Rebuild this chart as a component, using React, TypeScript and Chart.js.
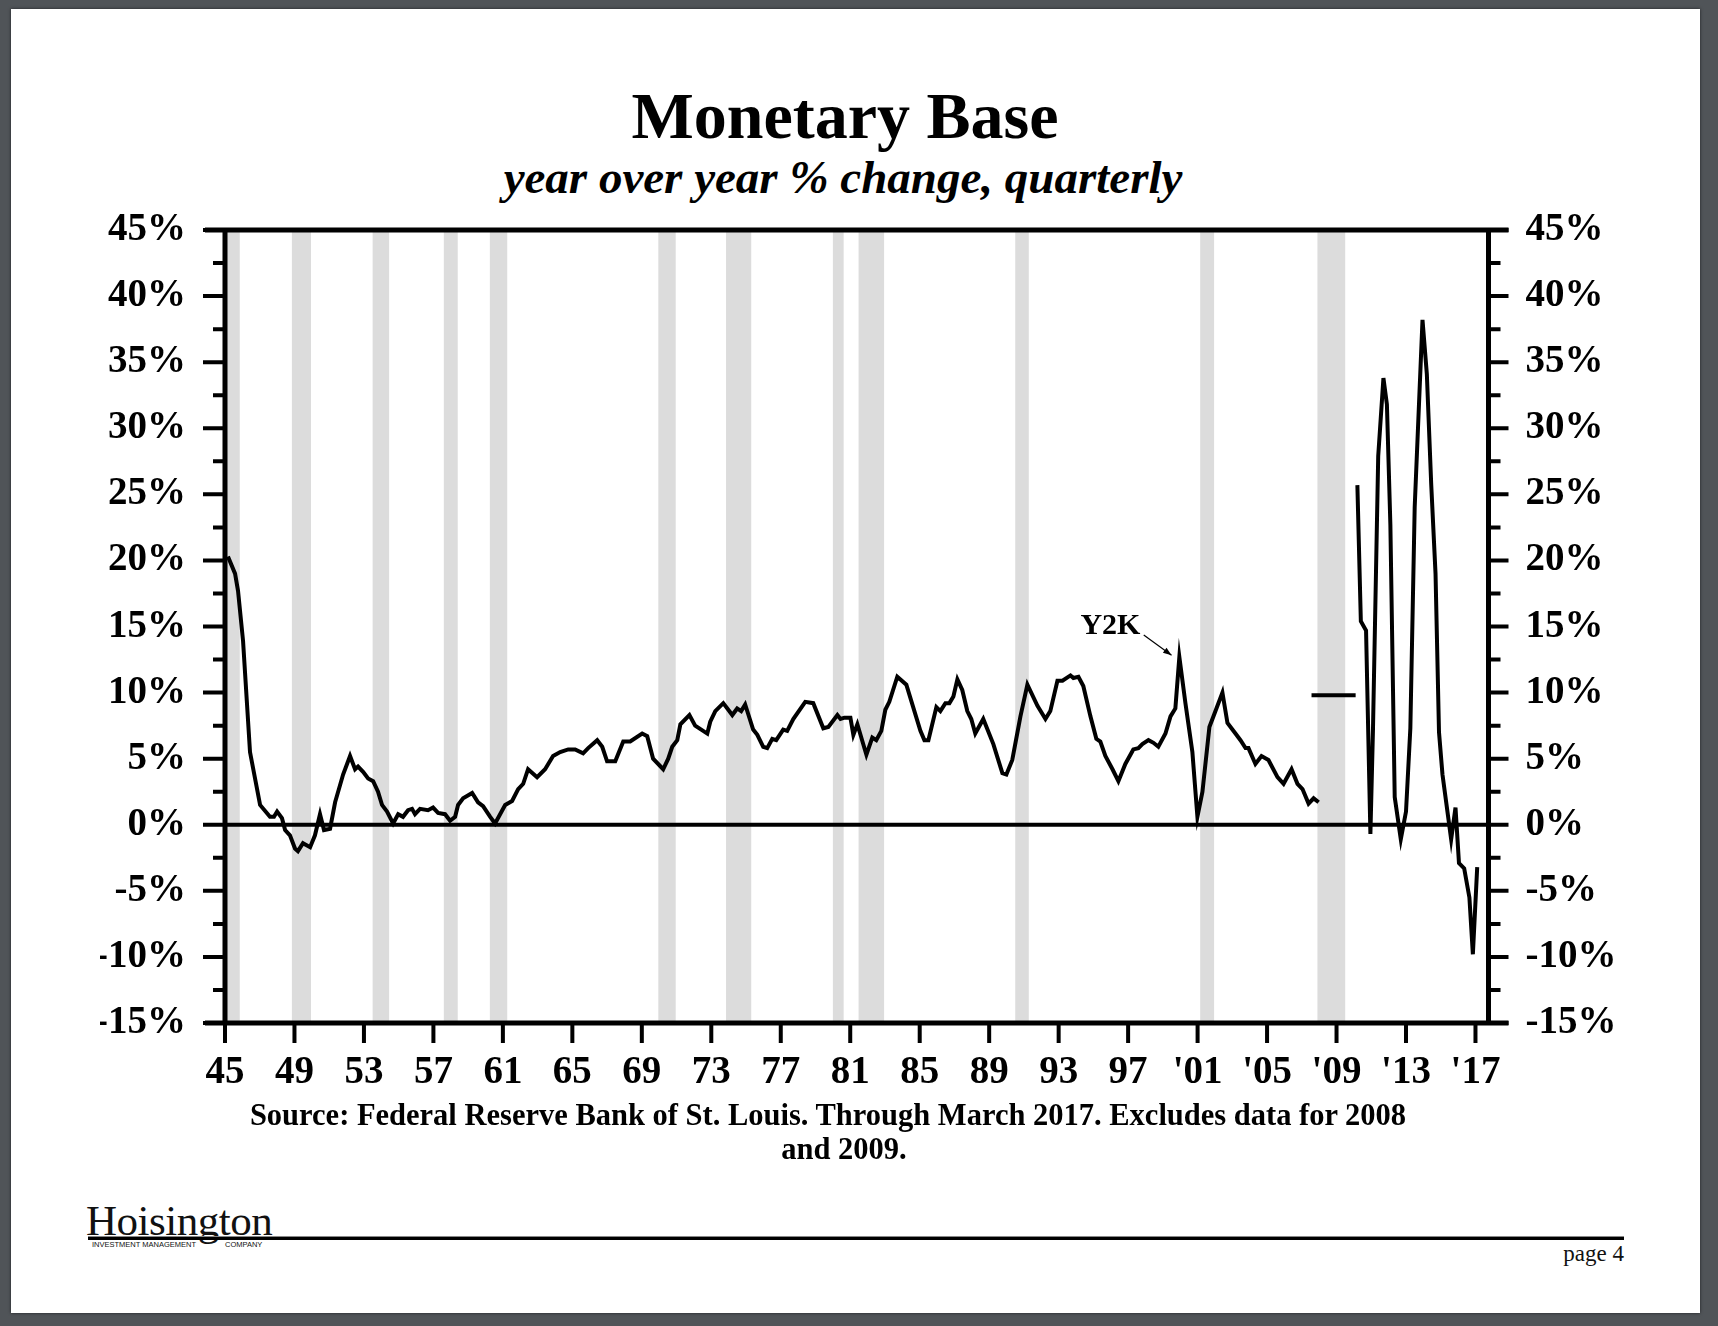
import React, { useEffect, useRef } from "react";
import { Chart, registerables } from "chart.js";

Chart.register(...registerables);

// ---- data ----
const mainYears = [
  1945.17, 1945.58, 1945.75, 1946.04, 1946.44, 1947.02, 1947.59, 1947.82, 1948.0, 1948.28,
  1948.46, 1948.74, 1949.03, 1949.2, 1949.49, 1949.9, 1950.18, 1950.47, 1950.7, 1951.05,
  1951.34, 1951.8, 1952.2, 1952.49, 1952.66, 1952.95, 1953.24, 1953.53, 1953.81, 1954.04,
  1954.33, 1954.68, 1954.97, 1955.25, 1955.54, 1955.77, 1955.94, 1956.23, 1956.69, 1956.98,
  1957.27, 1957.67, 1957.96, 1958.25, 1958.42, 1958.71, 1959.23, 1959.57, 1959.86, 1960.27,
  1960.55, 1960.84, 1961.13, 1961.53, 1961.88, 1962.17, 1962.45, 1962.97, 1963.43, 1963.89,
  1964.3, 1964.76, 1965.16, 1965.62, 1965.91, 1966.43, 1966.72, 1967.0, 1967.47, 1967.93,
  1968.33, 1969.02, 1969.31, 1969.65, 1970.23, 1970.52, 1970.75, 1971.04, 1971.22, 1971.74,
  1972.07, 1972.77, 1972.94, 1973.23, 1973.69, 1974.21, 1974.49, 1974.72, 1974.95, 1975.41,
  1975.65, 1975.99, 1976.22, 1976.51, 1976.74, 1977.14, 1977.37, 1977.72, 1978.41, 1978.87,
  1979.45, 1979.74, 1980.26, 1980.44, 1980.67, 1981.01, 1981.18, 1981.41, 1981.93, 1982.27,
  1982.5, 1982.79, 1983.02, 1983.25, 1983.71, 1984.23, 1985.04, 1985.27, 1985.5, 1985.96,
  1986.19, 1986.48, 1986.71, 1986.94, 1987.17, 1987.45, 1987.74, 1987.97, 1988.2, 1988.66,
  1989.24, 1989.76, 1989.99, 1990.33, 1990.8, 1991.2, 1991.78, 1992.24, 1992.52, 1992.93,
  1993.22, 1993.68, 1993.85, 1994.14, 1994.42, 1994.83, 1995.17, 1995.4, 1995.69, 1996.1,
  1996.44, 1996.84, 1997.3, 1997.59, 1997.82, 1998.17, 1998.46, 1998.74, 1999.15, 1999.44,
  1999.72, 1999.95, 2000.3, 2000.7, 2000.99, 2001.28, 2001.68, 2001.97, 2002.43, 2002.72,
  2003.18, 2003.47, 2003.76, 2003.93, 2004.33, 2004.68, 2005.08, 2005.6, 2005.95, 2006.41,
  2006.75, 2007.04, 2007.39, 2007.68, 2007.97,
];
const mainValues = [
  20.3, 19.0, 17.7, 13.9, 5.5, 1.5, 0.6, 0.6, 1.0, 0.5,
  -0.4, -0.8, -1.8, -2.0, -1.4, -1.7, -0.8, 0.8, -0.4, -0.3,
  1.7, 3.8, 5.2, 4.2, 4.4, 4.0, 3.5, 3.3, 2.5, 1.5,
  1.0, 0.1, 0.8, 0.6, 1.1, 1.2, 0.8, 1.2, 1.1, 1.3,
  0.9, 0.8, 0.3, 0.6, 1.5, 2.0, 2.4, 1.7, 1.4, 0.6,
  0.1, 0.8, 1.5, 1.8, 2.7, 3.1, 4.2, 3.6, 4.2, 5.2,
  5.5, 5.7, 5.7, 5.4, 5.8, 6.4, 5.9, 4.8, 4.8, 6.3,
  6.3, 6.9, 6.7, 5.0, 4.2, 5.0, 5.9, 6.4, 7.6, 8.3,
  7.5, 6.9, 7.8, 8.6, 9.2, 8.3, 8.8, 8.6, 9.1, 7.2,
  6.8, 5.9, 5.8, 6.5, 6.4, 7.2, 7.1, 8.0, 9.3, 9.2,
  7.3, 7.4, 8.3, 8.0, 8.1, 8.1, 6.8, 7.6, 5.3, 6.6,
  6.4, 7.1, 8.7, 9.3, 11.2, 10.6, 7.1, 6.4, 6.4, 8.9,
  8.6, 9.2, 9.2, 9.7, 11.0, 10.2, 8.6, 8.0, 6.9, 8.0,
  6.1, 3.9, 3.8, 4.9, 8.2, 10.6, 9.0, 8.0, 8.6, 10.9,
  10.9, 11.3, 11.1, 11.2, 10.5, 8.2, 6.5, 6.3, 5.2, 4.2,
  3.3, 4.6, 5.7, 5.8, 6.1, 6.4, 6.2, 5.9, 6.9, 8.2,
  8.8, 12.7, 9.2, 5.5, 0.6, 2.5, 7.4, 8.4, 10.0, 7.7,
  6.9, 6.4, 5.8, 5.8, 4.6, 5.2, 4.9, 3.6, 3.1, 4.2,
  3.1, 2.7, 1.6, 2.0, 1.7,
];

// level shown for the excluded 2008-2009 period
const gapYears = [2007.56, 2010.1];
const gapValues = [9.8, 9.8];

const postYears = [
  2010.2, 2010.4, 2010.7, 2010.95, 2011.1, 2011.4, 2011.7, 2011.9, 2012.1, 2012.35,
  2012.7, 2013.0, 2013.25, 2013.5, 2013.95, 2014.2, 2014.45, 2014.7, 2014.9, 2015.1,
  2015.6, 2015.85, 2016.05, 2016.35, 2016.65, 2016.85, 2017.1,
];
const postValues = [
  25.7, 15.4, 14.7, -0.7, 7.3, 27.9, 33.8, 31.8, 22.7, 2.1,
  -1.1, 1.0, 7.3, 24.0, 38.2, 34.1, 25.8, 19.0, 7.0, 3.8,
  -1.1, 1.3, -2.9, -3.3, -5.5, -9.8, -3.2,
];

// recession shading (start / end, decimal years)
const recessionStarts = [1945.1, 1948.85, 1953.5, 1957.6, 1960.25, 1969.95, 1973.85, 1980.0, 1981.48, 1990.5, 2001.15, 2007.9];
const recessionEnds = [1945.85, 1949.95, 1954.45, 1958.4, 1961.25, 1970.95, 1975.3, 1980.62, 1982.95, 1991.28, 2001.95, 2009.5];

// ticks
const xTickYears = [1945, 1949, 1953, 1957, 1961, 1965, 1969, 1973, 1977, 1981, 1985, 1989, 1993, 1997, 2001, 2005, 2009, 2013, 2017];
const xTickLabels = ["45", "49", "53", "57", "61", "65", "69", "73", "77", "81", "85", "89", "93", "97", "'01", "'05", "'09", "'13", "'17"];
const yTickValues = [-15, -10, -5, 0, 5, 10, 15, 20, 25, 30, 35, 40, 45];
const yMinorTickValues = [-12.5, -7.5, -2.5, 2.5, 7.5, 12.5, 17.5, 22.5, 27.5, 32.5, 37.5, 42.5];

// annotation
const y2kLabel = "Y2K";
const y2kTextAt = { x: 1997.71, y: 14.42 };
const y2kArrowFrom = { x: 1997.9, y: 14.35 };
const y2kArrowTo = { x: 1999.5, y: 12.82 };

const SERIF = "'Liberation Serif', 'Times New Roman', serif";

const framePlugin = {
  id: "frame",
  beforeDatasetsDraw(chart: any) {
    const { ctx, chartArea: ca, scales } = chart;
    const xs = scales.x;
    const ys = scales.y;
    ctx.save();
    ctx.fillStyle = "#dcdcdc";
    recessionStarts.forEach((s, i) => {
      const x0 = xs.getPixelForValue(s);
      const x1 = xs.getPixelForValue(recessionEnds[i]);
      ctx.fillRect(x0, ca.top, x1 - x0, ca.bottom - ca.top);
    });
    const z = ys.getPixelForValue(0);
    ctx.strokeStyle = "#000";
    ctx.lineWidth = 4;
    ctx.beginPath();
    ctx.moveTo(ca.left, z);
    ctx.lineTo(ca.right, z);
    ctx.stroke();
    ctx.restore();
  },
  afterDatasetsDraw(chart: any) {
    const { ctx, chartArea: ca, scales } = chart;
    const xs = scales.x;
    const ys = scales.y;
    ctx.save();
    ctx.strokeStyle = "#000";
    ctx.lineCap = "butt";
    // frame
    ctx.lineWidth = 5;
    ctx.beginPath();
    ctx.moveTo(ca.left, ca.top);
    ctx.lineTo(ca.left, ca.bottom);
    ctx.moveTo(ca.right, ca.top);
    ctx.lineTo(ca.right, ca.bottom);
    ctx.moveTo(ca.left - 20, ca.top);
    ctx.lineTo(ca.right + 20, ca.top);
    ctx.moveTo(ca.left - 20, ca.bottom);
    ctx.lineTo(ca.right + 20, ca.bottom);
    ctx.stroke();
    // y ticks
    ctx.lineWidth = 4;
    ctx.beginPath();
    yTickValues.forEach((v) => {
      const p = ys.getPixelForValue(v);
      ctx.moveTo(ca.left - 22, p);
      ctx.lineTo(ca.left, p);
      ctx.moveTo(ca.right, p);
      ctx.lineTo(ca.right + 20, p);
    });
    yMinorTickValues.forEach((v) => {
      const p = ys.getPixelForValue(v);
      ctx.moveTo(ca.left - 12, p);
      ctx.lineTo(ca.left, p);
      ctx.moveTo(ca.right, p);
      ctx.lineTo(ca.right + 12, p);
    });
    // x ticks
    xTickYears.forEach((v) => {
      const p = xs.getPixelForValue(v);
      ctx.moveTo(p, ca.bottom);
      ctx.lineTo(p, ca.bottom + 20);
    });
    ctx.stroke();
    // Y2K annotation
    ctx.fillStyle = "#000";
    ctx.font = `bold 30px ${SERIF}`;
    ctx.textAlign = "right";
    ctx.textBaseline = "alphabetic";
    ctx.fillText(y2kLabel, xs.getPixelForValue(y2kTextAt.x), ys.getPixelForValue(y2kTextAt.y));
    const ax0 = xs.getPixelForValue(y2kArrowFrom.x);
    const ay0 = ys.getPixelForValue(y2kArrowFrom.y);
    const ax1 = xs.getPixelForValue(y2kArrowTo.x);
    const ay1 = ys.getPixelForValue(y2kArrowTo.y);
    ctx.lineWidth = 1.2;
    ctx.beginPath();
    ctx.moveTo(ax0, ay0);
    ctx.lineTo(ax1, ay1);
    ctx.stroke();
    const ang = Math.atan2(ay1 - ay0, ax1 - ax0);
    const hl = 9;
    ctx.beginPath();
    ctx.moveTo(ax1, ay1);
    ctx.lineTo(ax1 - hl * Math.cos(ang - 0.35), ay1 - hl * Math.sin(ang - 0.35));
    ctx.lineTo(ax1 - hl * Math.cos(ang + 0.35), ay1 - hl * Math.sin(ang + 0.35));
    ctx.closePath();
    ctx.fill();
    ctx.restore();
  },
};

function toPoints(xs: number[], ys: number[]) {
  return xs.map((x, i) => ({ x, y: ys[i] }));
}

function MonetaryBaseChart() {
  const ref = useRef<HTMLCanvasElement | null>(null);
  useEffect(() => {
    if (!ref.current) return;
    const font = { family: SERIF, size: 39, weight: "bold" as const };
    const lineStyle = {
      borderColor: "#000",
      borderWidth: 4,
      pointRadius: 0,
      tension: 0,
      fill: false,
    };
    const chart = new Chart(ref.current, {
      type: "line",
      data: {
        datasets: [
          { ...lineStyle, data: toPoints(mainYears, mainValues) },
          { ...lineStyle, data: toPoints(gapYears, gapValues) },
          { ...lineStyle, data: toPoints(postYears, postValues) },
        ],
      },
      options: {
        animation: false,
        responsive: false,
        events: [],
        layout: { padding: { top: 70, left: 0, right: 0, bottom: 0 } },
        plugins: { legend: { display: false }, tooltip: { enabled: false }, title: { display: false } },
        scales: {
          x: {
            type: "linear",
            min: 1945,
            max: 2017.75,
            border: { display: false },
            grid: { display: false, drawTicks: false },
            afterBuildTicks: (s: any) => {
              s.ticks = xTickYears.map((v) => ({ value: v }));
            },
            afterFit: (s: any) => {
              s.height = 79;
            },
            ticks: {
              autoSkip: false,
              maxRotation: 0,
              padding: 27,
              color: "#000",
              font,
              callback: (v: any) => xTickLabels[xTickYears.indexOf(Number(v))] ?? "",
            },
          },
          y: {
            type: "linear",
            position: "left",
            min: -15,
            max: 45,
            border: { display: false },
            grid: { display: false, drawTicks: false },
            afterBuildTicks: (s: any) => {
              s.ticks = yTickValues.map((v) => ({ value: v }));
            },
            afterFit: (s: any) => {
              s.width = 125;
            },
            ticks: { padding: 39, color: "#000", font, callback: (v: any) => `${v}%` },
          },
          y2: {
            type: "linear",
            position: "right",
            min: -15,
            max: 45,
            border: { display: false },
            grid: { display: false, drawTicks: false },
            afterBuildTicks: (s: any) => {
              s.ticks = yTickValues.map((v) => ({ value: v }));
            },
            afterFit: (s: any) => {
              s.width = 131.5;
            },
            ticks: { padding: 37, color: "#000", font, callback: (v: any) => `${v}%` },
          },
        },
      },
      plugins: [framePlugin],
    });
    return () => chart.destroy();
  }, []);
  return (
    <canvas
      ref={ref}
      width={1520}
      height={942}
      style={{ position: "absolute", left: 100, top: 160, width: 1520, height: 942 }}
    />
  );
}

export default function App() {
  const text: React.CSSProperties = {
    position: "absolute",
    textAlign: "center",
    fontFamily: SERIF,
    color: "#000",
    whiteSpace: "nowrap",
  };
  return (
    <div
      style={{
        position: "fixed",
        left: 0,
        top: 0,
        width: 1718,
        height: 1326,
        background: "#505458",
        overflow: "hidden",
      }}
    >
      <div
        style={{
          position: "absolute",
          left: 11,
          top: 9,
          width: 1689,
          height: 1304,
          background: "#fff",
          boxShadow: "0 0 3px rgba(0,0,0,0.6)",
        }}
      />
      <div style={{ ...text, left: 0, width: 1690, top: 83, fontSize: 66, lineHeight: "66px", fontWeight: "bold" }}>
        Monetary Base
      </div>
      <div
        style={{
          ...text,
          left: 0,
          width: 1686,
          top: 154,
          fontSize: 47,
          lineHeight: "47px",
          fontWeight: "bold",
          fontStyle: "italic",
        }}
      >
        year over year % change, quarterly
      </div>
      <MonetaryBaseChart />
      <div style={{ ...text, left: 0, width: 1656, top: 1098, fontSize: 30.5, lineHeight: "34px", fontWeight: "bold" }}>
        Source: Federal Reserve Bank of St. Louis. Through March 2017. Excludes data for 2008
      </div>
      <div style={{ ...text, left: 0, width: 1688, top: 1132, fontSize: 30.5, lineHeight: "34px", fontWeight: "bold" }}>
        and 2009.
      </div>
      {/* footer */}
      <div
        style={{
          position: "absolute",
          left: 86,
          top: 1199,
          fontFamily: SERIF,
          fontSize: 43,
          lineHeight: "43px",
          color: "#111",
          letterSpacing: -0.5,
        }}
      >
        Hoisington
      </div>
      <div style={{ position: "absolute", left: 88, top: 1236, width: 1536, height: 1, background: "#888" }} />
      <div style={{ position: "absolute", left: 88, top: 1237, width: 1536, height: 2.5, background: "#000" }} />
      <div
        style={{
          position: "absolute",
          left: 92,
          top: 1240,
          fontFamily: "'Liberation Sans Narrow', 'Liberation Sans', sans-serif",
          fontSize: 7.5,
          lineHeight: "9px",
          color: "#111",
          whiteSpace: "nowrap",
        }}
      >
        INVESTMENT MANAGEMENT
      </div>
      <div
        style={{
          position: "absolute",
          left: 225,
          top: 1240,
          fontFamily: "'Liberation Sans Narrow', 'Liberation Sans', sans-serif",
          fontSize: 7.5,
          lineHeight: "9px",
          color: "#111",
          whiteSpace: "nowrap",
        }}
      >
        COMPANY
      </div>
      <div
        style={{
          position: "absolute",
          right: 1718 - 1624,
          top: 1242,
          fontFamily: SERIF,
          fontSize: 23,
          lineHeight: "23px",
          color: "#111",
          whiteSpace: "nowrap",
        }}
      >
        page 4
      </div>
    </div>
  );
}
